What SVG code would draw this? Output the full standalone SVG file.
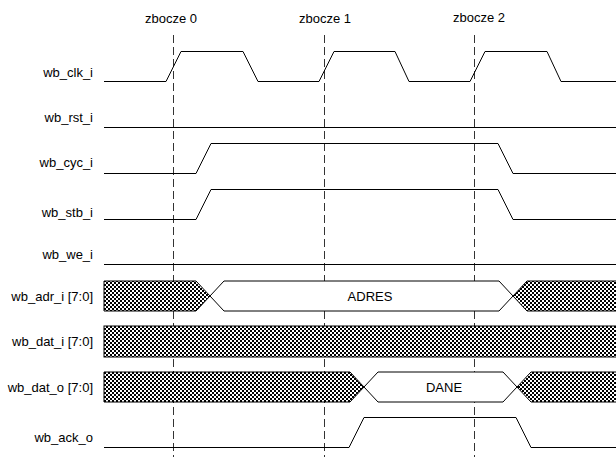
<svg xmlns="http://www.w3.org/2000/svg" width="616" height="457" viewBox="0 0 616 457">
<style>
text{font-family:"Liberation Sans",Arial,sans-serif;font-size:13px;fill:#000}
.lbl{text-anchor:end}
.sig{fill:none;stroke:#000;stroke-width:1}
.bus{fill:#fff;stroke:#000;stroke-width:1}
.hatch{fill:url(#chk);stroke:#000;stroke-width:1}
.grid{fill:none;stroke:#333;stroke-width:1;stroke-dasharray:8 4}
</style>
<defs>
<pattern id="chk" width="4" height="4" patternUnits="userSpaceOnUse">
<rect width="4" height="4" fill="#fff"/>
<rect width="2" height="2" fill="#000"/>
<rect x="2" y="2" width="2" height="2" fill="#000"/>
</pattern>
</defs>
<rect width="616" height="457" fill="#fff"/>
<g id="edges">
<text x="145" y="23">zbocze 0</text>
<text x="299" y="23">zbocze 1</text>
<text x="453" y="21.5">zbocze 2</text>
<line class="grid" x1="173.5" y1="35" x2="173.5" y2="457"/>
<line class="grid" x1="324.5" y1="35" x2="324.5" y2="457"/>
<line class="grid" x1="474.5" y1="35" x2="474.5" y2="457"/>
</g>
<g id="wb_clk_i">
<text class="lbl" x="93" y="76.5">wb_clk_i</text>
<polyline class="sig" points="104,81.5 166,81.5 181,51.5 243,51.5 258,81.5 319,81.5 334,51.5 395,51.5 409,81.5 470,81.5 485,51.5 547,51.5 561,81.5 616,81.5"/>
</g>
<g id="wb_rst_i">
<text class="lbl" x="93" y="121.5">wb_rst_i</text>
<line class="sig" x1="104" y1="127.5" x2="616" y2="127.5"/>
</g>
<g id="wb_cyc_i">
<text class="lbl" x="93" y="166.5">wb_cyc_i</text>
<polyline class="sig" points="104,173.5 196,173.5 211,143.5 498,143.5 513,173.5 616,173.5"/>
</g>
<g id="wb_stb_i">
<text class="lbl" x="93" y="216.5">wb_stb_i</text>
<polyline class="sig" points="104,219.5 196,219.5 211,189.5 498,189.5 513,219.5 616,219.5"/>
</g>
<g id="wb_we_i">
<text class="lbl" x="93" y="258.5">wb_we_i</text>
<line class="sig" x1="104" y1="264.5" x2="616" y2="264.5"/>
</g>
<g id="wb_adr_i">
<text class="lbl" x="93" y="300.5">wb_adr_i [7:0]</text>
<polygon class="hatch" points="104,281 196,281 210,296 196,311 104,311"/>
<polygon class="bus" points="210,296 224,281 499,281 513,296 499,311 224,311"/>
<polygon class="hatch" points="513,296 527,281 617,281 617,311 527,311"/>
<text x="370" y="300.5" text-anchor="middle">ADRES</text>
</g>
<g id="wb_dat_i">
<text class="lbl" x="93" y="345.5">wb_dat_i [7:0]</text>
<rect class="hatch" x="104" y="326" width="513" height="31"/>
</g>
<g id="wb_dat_o">
<text class="lbl" x="93" y="391.5">wb_dat_o [7:0]</text>
<polygon class="hatch" points="104,372 350,372 364,387 350,402 104,402"/>
<polygon class="bus" points="364,387 378,372 503,372 517,387 503,402 378,402"/>
<polygon class="hatch" points="517,387 531,372 617,372 617,402 531,402"/>
<text x="444" y="391.5" text-anchor="middle">DANE</text>
</g>
<g id="wb_ack_o">
<text class="lbl" x="93" y="441.5">wb_ack_o</text>
<polyline class="sig" points="104,447.5 349,447.5 364,417.5 516,417.5 531,447.5 616,447.5"/>
</g>
</svg>
